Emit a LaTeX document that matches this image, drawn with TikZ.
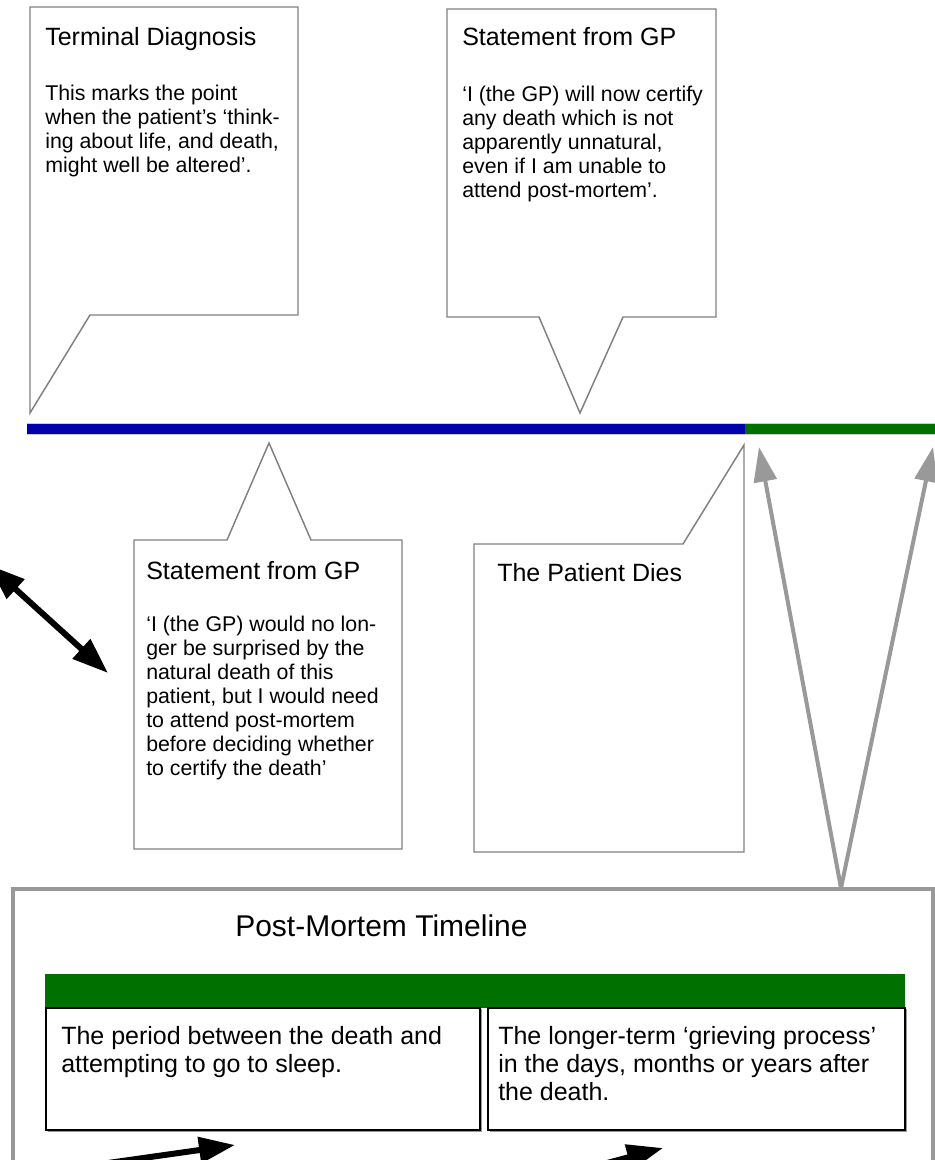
\documentclass[tikz,border=0pt]{standalone}
\usepackage{fontspec}
\setmainfont{Liberation Sans}
\usetikzlibrary{arrows.meta}
\definecolor{barblue}{RGB}{0,0,170}
\definecolor{bargreen}{RGB}{0,112,0}
\definecolor{edgegray}{RGB}{128,128,128}
\definecolor{linkgray}{RGB}{153,153,153}
\begin{document}
\begin{tikzpicture}[x=0.75pt,y=-0.75pt,line cap=butt,line join=miter,
	callout/.style={draw=edgegray,line width=1.1pt,fill=white},
	headtxt/.style={anchor=base west,inner sep=0pt,font=\fontsize{18.75}{22}\selectfont},
	bodytxt/.style={anchor=north west,inner sep=0pt,align=left,font=\fontsize{16}{18}\selectfont},
	celltxt/.style={anchor=north west,inner sep=0pt,align=left,font=\fontsize{18.75}{21}\selectfont},
	linkarrow/.style={draw=linkgray,line width=3pt,-{Triangle[length=26pt,width=17pt]}},
	fatarrow/.style={line width=4.5pt,-{Triangle[length=27pt,width=19pt]}}]
	\clip (0,0) rectangle (935,1160);
	\fill[white] (0,0) rectangle (935,1160);
	\draw[callout] (30,7) -- (298,7) -- (298,315) -- (90,315) -- (30,413) -- cycle;
	\draw[callout] (447,9) -- (716,9) -- (716,317) -- (623,317) -- (580,413) -- (539,317) -- (447,317) -- cycle;
	\draw[callout] (134,540) -- (227,540) -- (269,443) -- (311,540) -- (402,540) -- (402,849) -- (134,849) -- cycle;
	\draw[callout] (474,544) -- (683,544) -- (744,445) -- (744,852) -- (474,852) -- cycle;
	\fill[barblue] (27,423) rectangle (745,434);
	\fill[bargreen] (745,423) rectangle (935,434);
	\draw[black!20,line width=0.4pt] (27,423) -- (935,423) (27,434) -- (935,434);
	\node[headtxt] (diag) at (45,45) {Terminal Diagnosis};
	\node[bodytxt] (diagtxt) at (45,85) {This marks the point\\ when the patient’s ‘think-\\ ing about life, and death,\\ might well be altered’.};
	\node[headtxt] (gpnow) at (462,45) {Statement from GP};
	\node[bodytxt] (gpnowtxt) at (462,86) {‘I (the GP) will now certify\\ any death which is not\\ apparently unnatural,\\ even if I am unable to\\ attend post-mortem’.};
	\node[headtxt] (gpsoon) at (146,579) {Statement from GP};
	\node[bodytxt] (gpsoontxt) at (146,616) {‘I (the GP) would no lon-\\ ger be surprised by the\\ natural death of this\\ patient, but I would need\\ to attend post-mortem\\ before deciding whether\\ to certify the death’};
	\node[headtxt] (dies) at (497,581) {The Patient Dies};
	\draw[draw=linkgray,line width=2.5pt,fill=white] (13,889) rectangle (933,1200);
	\node[headtxt,font=\fontsize{22.5}{27}\selectfont] (pmtitle) at (235,936) {Post-Mortem Timeline};
	\fill[bargreen] (45,974) rectangle (905,1008);
	\foreach \a/\b in {46/480,488/905}{
		\draw[black!40,line width=1pt] (\a+1.5,1131.5) -| (\b+1.5,1009);
		\draw[black,line width=1.1pt] (\a,1008) rectangle (\b,1130);
	}
	\node[celltxt] (night) at (61,1026) {The period between the death and\\ attempting to go to sleep.};
	\node[celltxt] (grief) at (498,1026) {The longer-term ‘grieving process’\\ in the days, months or years after\\ the death.};
	\coordinate (pmtop) at (841,888);
	\coordinate (deathpt) at (759,447);
	\coordinate (endpt) at (933,447);
	\draw[linkarrow] (pmtop) -- (deathpt);
	\draw[linkarrow] (pmtop) -- (endpt);
	\coordinate (la) at (-11,565);
	\coordinate (lb) at (108,673);
	\draw[fatarrow,{Triangle[length=27pt,width=19pt]}-{Triangle[length=27pt,width=19pt]}] (la) -- (lb);
	\coordinate (ba) at (-12,1180);
	\coordinate (bb) at (235,1145);
	\draw[fatarrow] (ba) -- (bb);
	\coordinate (ca) at (421,1213);
	\coordinate (cb) at (663,1148);
	\draw[fatarrow] (ca) -- (cb);
\end{tikzpicture}
\end{document}
